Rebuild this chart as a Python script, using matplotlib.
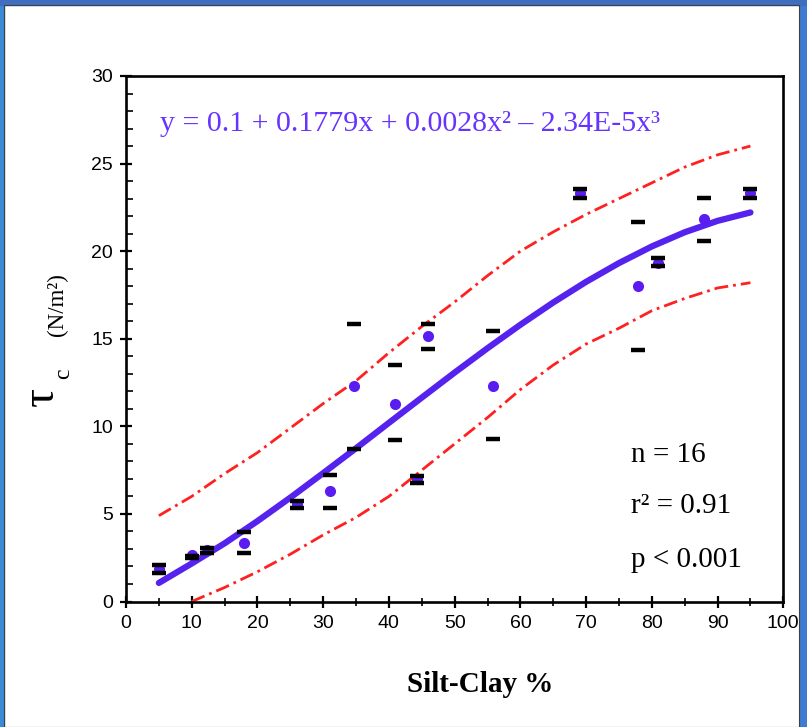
import matplotlib
matplotlib.use('Agg')
import matplotlib.pyplot as plt
from matplotlib.patches import Rectangle
from matplotlib.ticker import MultipleLocator

# measured points (silt-clay %, tau_c mean and bar ends)
silt = [5, 10, 12.3, 18, 26, 31, 34.7, 40.9, 44.2, 45.9, 55.9, 69, 77.9, 80.9, 87.9, 94.9]
tau_mean = [1.86, 2.64, 2.95, 3.35, 5.57, 6.29, 12.3, 11.3, 7.0, 15.15, 12.3, 23.3, 18.0, 19.35, 21.85, 23.3]
tau_hi = [2.11, 2.62, 3.06, 3.95, 5.76, 7.2, 15.87, 13.52, 7.19, 15.87, 15.45, 23.56, 21.64, 19.6, 23.03, 23.54]
tau_lo = [1.61, 2.46, 2.78, 2.78, 5.32, 5.32, 8.73, 9.2, 6.77, 14.42, 9.25, 23.05, 14.37, 19.13, 20.59, 23.03]

# fitted curve and confidence bands
fit_x = [5, 10, 15, 20, 25, 30, 35, 40, 45, 50, 55, 60, 65, 70, 75, 80, 85, 90, 95]
fit_y = [1.06, 2.17, 3.32, 4.59, 5.93, 7.33, 8.75, 10.2, 11.64, 13.07, 14.46, 15.8, 17.07,
         18.25, 19.32, 20.27, 21.08, 21.73, 22.21]
up_y = [4.9, 6.0, 7.3, 8.5, 9.9, 11.3, 12.6, 14.2, 15.7, 17.1, 18.6, 20.0, 21.1,
        22.1, 23.0, 23.9, 24.8, 25.5, 26.0]
lo_x = [10, 15, 20, 25, 30, 35, 40, 45, 50, 55, 60, 65, 70, 75, 80, 85, 90, 95]
lo_y = [0.0, 0.8, 1.7, 2.7, 3.8, 4.8, 6.0, 7.5, 9.0, 10.5, 12.1, 13.5, 14.7, 15.6,
        16.6, 17.3, 17.9, 18.2]

equation = 'y = 0.1 + 0.1779x + 0.0028x² – 2.34E-5x³'
stats = ['n = 16', 'r² = 0.91', 'p < 0.001']

fig = plt.figure(figsize=(8.07, 7.27), dpi=100)
fig.patch.set_facecolor('white')

# slide frame
fig.add_artist(Rectangle((0, 0), 4/807, 1, transform=fig.transFigure, color='#3b8ad8', zorder=0))
fig.add_artist(Rectangle((800/807, 0), 7/807, 1, transform=fig.transFigure, color='#3f7bd0', zorder=0))
fig.add_artist(Rectangle((0, 1 - 5/727), 1, 5/727, transform=fig.transFigure, color='#3f6ec0', zorder=0))
fig.add_artist(Rectangle((4/807, 0), 799/807 - 4/807, 1 - 5/727, transform=fig.transFigure,
                         facecolor='none', edgecolor='#404040', linewidth=0.8, zorder=0))

ax = fig.add_axes([126/807, 1 - 601.5/727, 657.3/807, 525.5/727])

red_style = dict(color='#ff2020', lw=2.0, linestyle=(0, (5, 1.8, 1, 1.8)), zorder=2)
ax.plot(fit_x, up_y, **red_style)
ax.plot(lo_x, lo_y, **red_style)
ax.plot(fit_x, fit_y, color='#5522ee', lw=4.5, solid_capstyle='round', zorder=3)
ax.plot(silt, tau_mean, 'o', color='#5a1cf0', markersize=8, markeredgewidth=0, zorder=4)
ax.plot(silt, tau_hi, '_', color='black', markersize=10, markeredgewidth=3.2, zorder=5)
ax.plot(silt, tau_lo, '_', color='black', markersize=10, markeredgewidth=3.2, zorder=5)

ax.set_xlim(0, 100)
ax.set_ylim(0, 30)
ax.xaxis.set_major_locator(MultipleLocator(10))
ax.xaxis.set_minor_locator(MultipleLocator(5))
ax.yaxis.set_major_locator(MultipleLocator(5))
ax.yaxis.set_minor_locator(MultipleLocator(1))

for s in ax.spines.values():
    s.set_linewidth(1.9)

ax.tick_params(axis='both', which='major', direction='inout', length=9, width=1.6,
               labelsize=14, pad=5)
ax.tick_params(axis='x', which='minor', direction='inout', length=6, width=1.2)
ax.tick_params(axis='y', which='minor', direction='in', length=5, width=1.2)
for lab in ax.get_xticklabels() + ax.get_yticklabels():
    lab.set_family('Liberation Sans')

ax.text(5.2, 26.85, equation, color='#6633ff', fontsize=21.5, family='Liberation Serif',
        va='baseline', ha='left')
for txt, yb in zip(stats, [7.97, 5.06, 1.97]):
    ax.text(76.8, yb, txt, color='black', fontsize=21, family='Liberation Serif',
            va='baseline', ha='left')

ax.set_xlabel('Silt-Clay %', fontsize=21, fontweight='bold', family='Liberation Serif')
ax.xaxis.set_label_coords(0.539, -0.133)

fig.text(42/807, 1 - 396/727, 'τ', rotation=90, fontsize=34, family='Liberation Serif',
         ha='center', va='center')
fig.text(64/807, 1 - 374/727, 'c', rotation=90, fontsize=17, family='Liberation Serif',
         ha='center', va='center')
fig.text(57/807, 1 - 305/727, '(N/m²)', rotation=90, fontsize=16.5, family='Liberation Serif',
         ha='center', va='center')

fig.savefig('out.png', dpi=100)
